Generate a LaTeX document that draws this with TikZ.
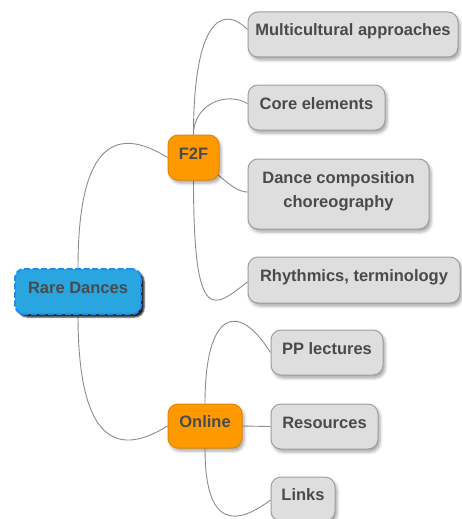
\documentclass[tikz,border=0pt]{standalone}
\usepackage{fontspec}
\setmainfont{Liberation Sans}
\usepackage{tikz}
\usetikzlibrary{shadows,shadows.blur,backgrounds}
\usepackage{xcolor}
\definecolor{txtgray}{HTML}{4A4A4A}
\definecolor{boxfill}{HTML}{DEDEDE}
\definecolor{boxline}{HTML}{9E9E9E}
\definecolor{linkgray}{HTML}{8C8C8C}
\definecolor{orfill}{HTML}{FF9900}
\definecolor{orline}{HTML}{E08600}
\definecolor{bluefill}{HTML}{29A6E0}
\definecolor{blueline}{HTML}{1E8CF0}

\begin{document}
\begin{tikzpicture}[x=1pt,y=-1pt,
  every node/.style={font=\fontsize{16.5}{24}\selectfont\bfseries, text=txtgray,
    text height=12pt, text depth=9pt, inner sep=0pt},
  leaf/.style={draw=boxline, fill=boxfill, line width=1pt, rounded corners=10pt,
    blur shadow={shadow xshift=2pt, shadow yshift=-3pt, shadow blur radius=3pt, shadow opacity=35}},
  hub/.style={draw=orline, fill=orfill, line width=1pt, rounded corners=10pt,
    blur shadow={shadow xshift=2pt, shadow yshift=-3pt, shadow blur radius=3pt, shadow opacity=35}},
  link/.style={draw=linkgray, line width=0.9pt}]
\useasboundingbox (0,0) rectangle (462,519);
% root
\node[draw=blueline, fill=bluefill, line width=2pt, dash pattern=on 6pt off 2.5pt,
  rounded corners=9pt, minimum width=126pt, minimum height=45pt,
  blur shadow={shadow xshift=3pt, shadow yshift=-3pt, shadow blur radius=1.5pt, shadow opacity=90}]
  (rare) at (78,291.5) {Rare Dances};
% hubs
\node[hub, minimum width=51pt, minimum height=45pt] (f2f) at (193.5,157.5) {F2F};
\node[hub, minimum width=74pt, minimum height=44pt] (online) at (205,426) {Online};
% F2F topics
\node[leaf, minimum width=210pt, minimum height=45pt] (multi) at (353,34.5) {Multicultural approaches};
\node[leaf, minimum width=137pt, minimum height=45pt] (core) at (316.5,107.5) {Core elements};
\node[leaf, minimum width=181pt, minimum height=70pt, align=center, text height=36pt] (dance) at (338.5,194) {Dance composition\\choreography};
\node[leaf, minimum width=212pt, minimum height=46pt] (rhythm) at (354,280) {Rhythmics, terminology};
% Online topics
\node[leaf, minimum width=112pt, minimum height=45pt] (pp) at (327,352.5) {PP lectures};
\node[leaf, minimum width=107pt, minimum height=45pt] (res) at (324.5,426.5) {Resources};
\node[leaf, minimum width=64pt, minimum height=44pt] (links) at (303,499) {Links};

\begin{scope}[on background layer]
\draw[link] (rare.north) to[out=90,in=148,out distance=118pt,in distance=66pt] (f2f.west);
\draw[link] (rare.south) to[out=-90,in=212,out distance=118pt,in distance=66pt] (online.west);
\draw[link] (f2f.north) to[out=90,in=135,out distance=110pt,in distance=38pt] ([yshift=5pt]multi.west);
\draw[link] (f2f.north) to[out=90,in=150,out distance=30pt,in distance=25pt] ([yshift=4pt]core.west);
\draw[link] (f2f.center) to[out=-30,in=180,out distance=30pt,in distance=15pt] ([yshift=2pt]dance.west);
\draw[link] (f2f.south) to[out=-90,in=217,out distance=150pt,in distance=41pt] ([yshift=-2pt]rhythm.west);
\draw[link] (online.north) to[out=90,in=122,out distance=92pt,in distance=62pt] (pp.west);
\draw[link] (online.east) -- (res.west);
\draw[link] (online.south) to[out=-90,in=217,out distance=82pt,in distance=41pt] ([yshift=-1pt]links.west);
\end{scope}
\end{tikzpicture}
\end{document}
